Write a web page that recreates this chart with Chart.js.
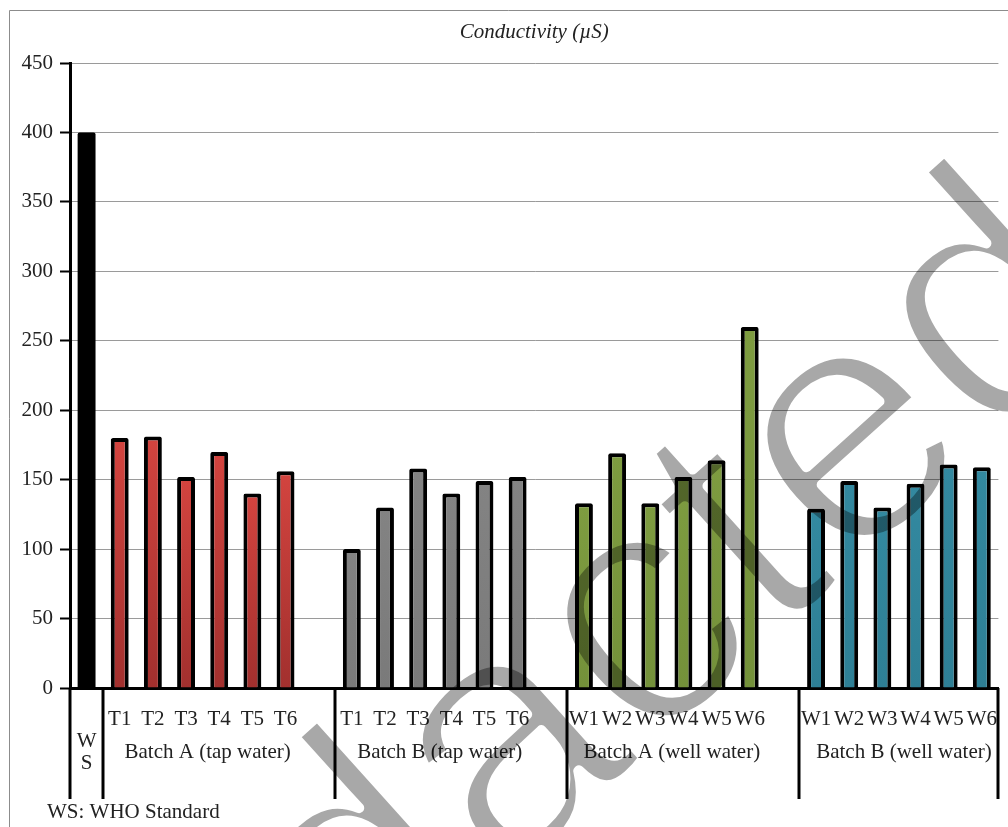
<!DOCTYPE html>
<html>
<head>
<meta charset="utf-8">
<script src="https://cdn.jsdelivr.net/npm/chart.js@4.4.0/dist/chart.umd.min.js"></script>
<style>
  html, body { margin: 0; padding: 0; background: #fff; }
  #wrap { width: 1008px; height: 827px; position: relative; }
</style>
</head>
<body>
<div id="wrap"><canvas id="chart"></canvas></div>
<script>
// values
const wsValue   = [400];
const tapA      = [180, 181, 152, 170, 140, 156];
const tapB      = [100, 130, 158, 140, 149, 152];
const wellA     = [133, 169, 133, 152, 164, 260];
const wellB     = [129, 149, 130, 147, 161, 159];
const tapLabels  = ['T1', 'T2', 'T3', 'T4', 'T5', 'T6'];
const wellLabels = ['W1', 'W2', 'W3', 'W4', 'W5', 'W6'];
const groupNames = ['Batch A (tap water)', 'Batch B (tap water)', 'Batch A (well water)', 'Batch B (well water)'];
const titleText = 'Conductivity (\u00b5S)';
const yMax = 450, yStep = 50;

const SERIF = '"Liberation Serif", "Times New Roman", serif';

// one blank slot between groups, like the original sheet
const labels = ['', ...tapLabels, '', ...tapLabels, '', ...wellLabels, '', ...wellLabels];
const values = [...wsValue, ...tapA, null, ...tapB, null, ...wellA, null, ...wellB];
const groupOf = [0, ...tapA.map(() => 1), null, ...tapB.map(() => 2), null, ...wellA.map(() => 3), null, ...wellB.map(() => 4)];

const fills = [
  ['#000000', '#000000'],
  ['#d3443f', '#a2302e'],
  ['#838383', '#7a7a7a'],
  ['#7e9c40', '#74913a'],
  ['#3389a0', '#2e7f95']
];

function barFill(ctx) {
  const g = groupOf[ctx.dataIndex];
  if (g == null) return 'rgba(0,0,0,0)';
  const chart = ctx.chart;
  if (!chart.chartArea || g === 0) return fills[g][0];
  const y = chart.scales.y;
  const top = y.getPixelForValue(values[ctx.dataIndex]);
  const bottom = y.getPixelForValue(0);
  const grad = chart.ctx.createLinearGradient(0, top, 0, bottom);
  grad.addColorStop(0, fills[g][0]);
  grad.addColorStop(1, fills[g][1]);
  return grad;
}

// slots covered by each group, and edges drawn as separators
const groupRanges = [[1, 6], [8, 13], [15, 20], [22, 27]];
const separators = [0, 1, 8, 15, 22, 28];

function drawWatermark(c) {
  // thin grey "Redacted" stamp across the chart
  const off = document.createElement('canvas');
  off.width = 1008; off.height = 827;
  const o = off.getContext('2d');
  o.translate(1129, 322);
  o.rotate(-42 * Math.PI / 180);
  o.font = '345px "Liberation Sans", Arial, sans-serif';
  o.textAlign = 'right';
  o.textBaseline = 'alphabetic';
  o.fillStyle = '#000';
  o.fillText('Redacted', 0, 0);
  o.globalCompositeOperation = 'destination-out';
  o.lineWidth = 10;
  o.lineJoin = 'round';
  o.strokeText('Redacted', 0, 0);
  c.save();
  c.globalAlpha = 0.34;
  c.drawImage(off, 0, 0);
  c.restore();
}

const extras = {
  id: 'extras',
  beforeDraw(chart) {
    const c = chart.ctx;
    c.save();
    c.strokeStyle = '#8c8c8c';
    c.lineWidth = 1;
    c.beginPath();
    c.moveTo(9.5, 827);
    c.lineTo(9.5, 10.5);
    c.lineTo(1008, 10.5);
    c.stroke();
    c.restore();
  },
  afterDraw(chart) {
    const c = chart.ctx;
    const x = chart.scales.x;
    const area = chart.chartArea;
    c.save();
    // title
    c.fillStyle = '#222';
    c.font = 'italic 21px ' + SERIF;
    c.textAlign = 'center';
    c.textBaseline = 'middle';
    c.fillText(titleText, (area.left + area.right) / 2, 32);
    // vertical separators under the axis
    c.strokeStyle = '#000';
    c.lineWidth = 3;
    separators.forEach(i => {
      const px = Math.round(x.getPixelForValue(i - 0.5));
      c.beginPath();
      c.moveTo(px, area.bottom);
      c.lineTo(px, 799);
      c.stroke();
    });
    // second label row
    c.font = '21px ' + SERIF;
    const wsX = x.getPixelForValue(0);
    c.fillText('W', wsX, 741);
    c.fillText('S', wsX, 763);
    groupRanges.forEach(([a, b], k) => {
      const cx = (x.getPixelForValue(a) + x.getPixelForValue(b)) / 2 + 5;
      c.fillText(groupNames[k], cx, 752);
    });
    c.textAlign = 'left';
    c.fillText('WS: WHO Standard', 47, 812);
    c.restore();

    drawWatermark(c);
  }
};

new Chart(document.getElementById('chart'), {
  type: 'bar',
  data: {
    labels,
    datasets: [{
      data: values,
      backgroundColor: barFill,
      borderColor: '#000',
      borderWidth: ctx => (ctx.dataIndex === 0 ? 0 : 4),
      borderRadius: 2,
      borderSkipped: 'start',
      barPercentage: 0.54,
      categoryPercentage: 1
    }]
  },
  options: {
    responsive: true,
    maintainAspectRatio: false,
    animation: false,
    layout: { padding: { left: 0, right: 0, top: 63, bottom: 0 } },
    plugins: {
      legend: { display: false },
      tooltip: { enabled: false },
      title: { display: false }
    },
    scales: {
      x: {
        z: 1,
        grid: { display: false },
        border: { display: true, color: '#000', width: 3 },
        ticks: {
          autoSkip: false, maxRotation: 0, minRotation: 0,
          color: '#222', padding: 11,
          font: { family: SERIF, size: 21 }
        },
        afterFit(scale) { scale.height = 139; }
      },
      y: {
        min: 0, max: yMax,
        grid: { color: '#9a9a9a', lineWidth: 1, tickColor: '#000', tickWidth: 2, tickLength: 10 },
        border: { display: true, color: '#000', width: 3 },
        ticks: {
          stepSize: yStep, color: '#222', padding: 7,
          font: { family: SERIF, size: 21 }
        },
        afterFit(scale) { scale.width = 70; }
      }
    }
  },
  plugins: [extras]
});
</script>
</body>
</html>
